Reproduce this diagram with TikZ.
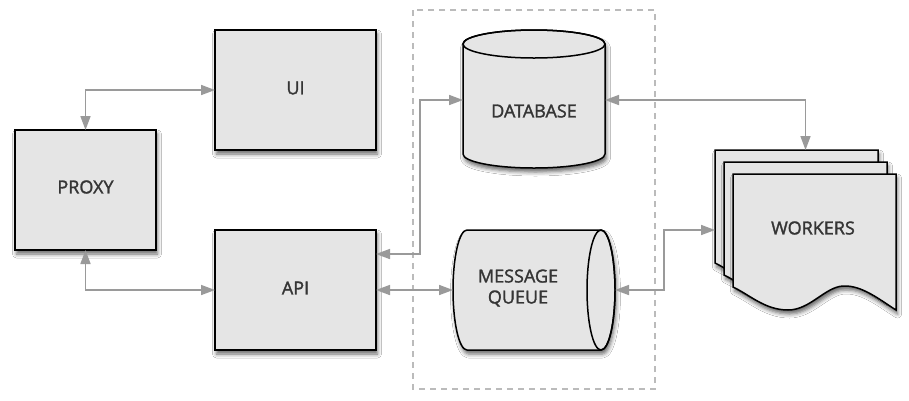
\documentclass[tikz,border=0pt]{standalone}
\usepackage{fontspec}
\setmainfont{Open Sans}
\newfontfamily\lblfont{Open Sans}[FakeBold=1.6]
\usetikzlibrary{arrows.meta,shadows.blur}
\definecolor{boxfill}{HTML}{E5E5E5}
\definecolor{arrowgray}{HTML}{9A9A9A}
\definecolor{textgray}{HTML}{353535}
\definecolor{dashgray}{HTML}{BBBBBB}
\begin{document}
\begin{tikzpicture}[x=1pt,y=-1pt,
  shd/.style={blur shadow={shadow xshift=1.5pt,shadow yshift=-4pt,shadow blur radius=4pt,shadow opacity=60}},
  shapebase/.style={draw=black,line width=1.5pt,fill=boxfill,shd},
  lbl/.style={font=\lblfont\fontsize{18}{21}\selectfont,text=textgray,align=center,inner sep=0pt},
  boxnode/.style={shapebase,rectangle,inner sep=0pt,outer sep=0pt},
  anchornode/.style={rectangle,inner sep=0pt,outer sep=0pt},
  conn/.style={draw=arrowgray,line width=1.6pt,
    {Triangle[length=14pt,width=10pt]}-{Triangle[length=14pt,width=10pt]}},
  group/.style={draw=dashgray,line width=1.2pt,dash pattern=on 6pt off 5pt}
]
\useasboundingbox (0,0) rectangle (909,400);
\fill[white] (0,0) rectangle (909,400);

% dashed group
\draw[group] (413,10) rectangle (655,389);

% boxes
\node[boxnode,minimum width=141,minimum height=120] (proxy) at (85.5,190) {};
\node[lbl] (proxytext) at (85.5,187) {PROXY};
\node[boxnode,minimum width=161,minimum height=120] (ui) at (295.5,90) {};
\node[lbl] (uitext) at (295.5,88) {UI};
\node[boxnode,minimum width=161,minimum height=120] (api) at (295.5,290) {};
\node[lbl] (apitext) at (295.5,288) {API};

% database cylinder
\filldraw[shapebase] (463,44) -- (463,154)
  arc[start angle=180,end angle=0,x radius=71,y radius=14]
  -- (605,44)
  arc[start angle=0,end angle=-180,x radius=71,y radius=14] -- cycle;
\draw[draw=black,line width=1.5pt] (534,44) ellipse[x radius=71,y radius=14];
\node[anchornode,minimum width=142,minimum height=138] (db) at (534,100) {};
\node[lbl] (dbtext) at (534,111) {DATABASE};

% message queue cylinder
\filldraw[shapebase] (467,230) -- (601,230)
  arc[start angle=-90,end angle=90,x radius=14,y radius=60]
  -- (467,350)
  arc[start angle=90,end angle=270,x radius=14,y radius=60] -- cycle;
\draw[draw=black,line width=1.5pt] (601,290) ellipse[x radius=14,y radius=60];
\node[anchornode,minimum width=162,minimum height=120] (mq) at (534,290) {};
\node[lbl] (mqtext) at (518,288) {MESSAGE\\QUEUE};

% workers documents
\foreach \dx/\dy in {-18/-24,-9/-12,0/0}{
  \begin{scope}[shift={(\dx,\dy)}]
    \filldraw[shapebase] (733,174) -- (896,174) -- (896,310)
      .. controls (880,300) and (862,285) .. (843,286)
      .. controls (825,287) and (810,310) .. (788,310)
      .. controls (765,310) and (750,295) .. (733,287) -- cycle;
  \end{scope}
}
\node[anchornode,minimum width=181,minimum height=160] (workers) at (805.5,230) {};
\node[lbl] (workerstext) at (813,228) {WORKERS};

% connector bends
\coordinate (dbbend) at (420,100);
\coordinate (mqbend) at (664,260);

% connectors
\draw[conn] (proxy.north) |- (ui.west);
\draw[conn] (proxy.south) |- (api.west);
\draw[conn] ([yshift=36pt]api.east) -| (dbbend) -- (db.west);
\draw[conn] (api.east) -- (mq.west);
\draw[conn] (db.east) -| (workers.north);
\draw[conn] (mq.east) -| (mqbend) |- (workers.west);
\end{tikzpicture}
\end{document}
